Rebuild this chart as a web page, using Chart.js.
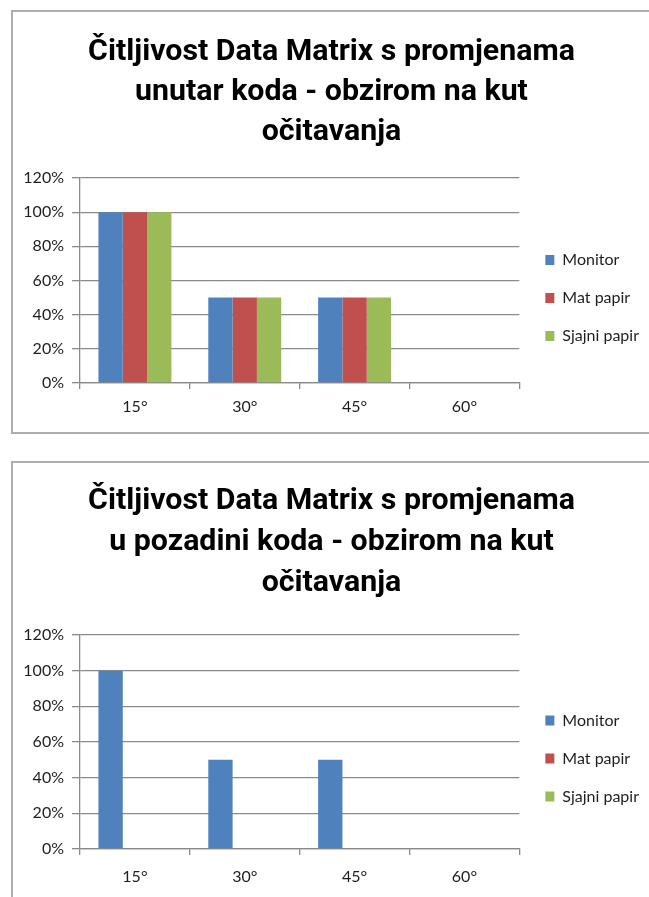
<!DOCTYPE html>
<html><head><meta charset="utf-8">
<script src="https://cdn.jsdelivr.net/npm/chart.js@4.4.1/dist/chart.umd.min.js"></script>
<style>
html,body{margin:0;padding:0;background:#fff;overflow:hidden;width:649px;height:897px;}
.frame{position:absolute;border:2px solid #adadad;background:#fff;box-sizing:border-box;}
.wrap{position:absolute;left:0;width:649px;}
canvas{display:block;}
</style></head><body>
<div class="frame" style="left:11px;top:10px;width:700px;height:424px"></div>
<div class="frame" style="left:11px;top:461px;width:700px;height:500px"></div>
<div class="wrap" style="top:0;height:440px"><canvas id="c1" width="649" height="440"></canvas></div>
<div class="wrap" style="top:450px;height:447px"><canvas id="c2" width="649" height="447"></canvas></div>
<script>
// ---- data ----
const categories = ['15°', '30°', '45°', '60°'];
const seriesNames = ['Monitor', 'Mat papir', 'Sjajni papir'];
const seriesColors = ['#4F81BD', '#C0504D', '#9BBB59'];

const title1Lines = ['Čitljivost Data Matrix s promjenama', 'unutar koda - obzirom na kut', 'očitavanja'];
const chart1Monitor = [1.0, 0.5, 0.5, 0];
const chart1Mat = [1.0, 0.5, 0.5, 0];
const chart1Sjajni = [1.0, 0.5, 0.5, 0];

const title2Lines = ['Čitljivost Data Matrix s promjenama', 'u pozadini koda - obzirom na kut', 'očitavanja'];
const chart2Monitor = [1.0, 0.5, 0.5, 0];
const chart2Mat = [0, 0, 0, 0];
const chart2Sjajni = [0, 0, 0, 0];

const yMin = 0, yMax = 1.2, yStep = 0.2;

// ---- style ----
const TITLE_FAMILY = "Roboto, 'DejaVu Sans Condensed', sans-serif";
const SMALL_FAMILY = "Lato, 'Open Sans', sans-serif";
const TEXT_COLOR = '#1e1e1e';
const GRID_COLOR = '#8a8a8a';

function fitTitleSize(text, target) {
  const ctx = document.createElement('canvas').getContext('2d');
  ctx.font = 'bold 30px ' + TITLE_FAMILY;
  return 30 * target / ctx.measureText(text).width;
}
const titleSize = fitTitleSize(title1Lines[0], 487);

const legendShiftPlugin = {
  id: 'legendShift',
  afterLayout(chart) {
    const s = chart.options.plugins.legendShift || {};
    const lg = chart.legend;
    if (!lg) return;
    const dx = s.dx || 0, dy = s.dy || 0;
    lg.left += dx; lg.right += dx; lg.top += dy; lg.bottom += dy;
  }
};

function makeChart(id, lines, data, cfg) {
  const datasets = seriesNames.map((n, i) => ({
    label: n,
    data: data[i],
    backgroundColor: seriesColors[i],
    borderWidth: 0,
    categoryPercentage: 0.664,
    barPercentage: 1.0
  }));
  return new Chart(document.getElementById(id), {
    type: 'bar',
    data: { labels: categories, datasets },
    plugins: [legendShiftPlugin],
    options: {
      responsive: false,
      devicePixelRatio: 1,
      animation: false,
      layout: { padding: { left: 18, right: cfg.padRight, top: 0, bottom: 0 } },
      plugins: {
        tooltip: { enabled: false },
        legendShift: { dx: cfg.legendDx, dy: cfg.legendDy },
        title: {
          display: true,
          text: lines,
          color: '#000',
          font: { family: TITLE_FAMILY, size: titleSize, weight: 'bold', lineHeight: cfg.titleLH },
          padding: { top: cfg.titleTop, bottom: cfg.titleBottom }
        },
        legend: {
          position: 'right',
          align: 'center',
          labels: {
            boxWidth: 9,
            boxHeight: 10,
            padding: 22,
            color: TEXT_COLOR,
            font: { family: SMALL_FAMILY, size: 16 }
          }
        }
      },
      scales: {
        x: {
          grid: { display: true, drawOnChartArea: false, drawTicks: true, tickLength: 6, color: GRID_COLOR, lineWidth: 1.3 },
          border: { display: true, color: GRID_COLOR, width: 1.3 },
          ticks: { color: TEXT_COLOR, font: { family: SMALL_FAMILY, size: 16 }, padding: cfg.xPad },
          afterFit(scale) { scale.height = cfg.xHeight; }
        },
        y: {
          min: yMin, max: yMax,
          grid: { color: GRID_COLOR, lineWidth: 1.3, drawTicks: true, tickLength: 8 },
          border: { display: true, color: GRID_COLOR, width: 1.3 },
          ticks: {
            stepSize: yStep,
            color: TEXT_COLOR,
            font: { family: SMALL_FAMILY, size: 16 },
            padding: 8,
            callback: v => Math.round(v * 100) + '%'
          },
          afterFit(scale) { scale.width = 62; }
        }
      }
    }
  });
}

makeChart('c1', title1Lines, [chart1Monitor, chart1Mat, chart1Sjajni],
  { titleLH: '40px', titleTop: 32.6, titleBottom: 25.4, xHeight: 57, xPad: 8, padRight: 4, legendDx: 4, legendDy: 78 });
makeChart('c2', title2Lines, [chart2Monitor, chart2Mat, chart2Sjajni],
  { titleLH: '41px', titleTop: 31.1, titleBottom: 30.9, xHeight: 48, xPad: 12, padRight: 4, legendDx: 4, legendDy: 85 });
</script>
</body></html>
